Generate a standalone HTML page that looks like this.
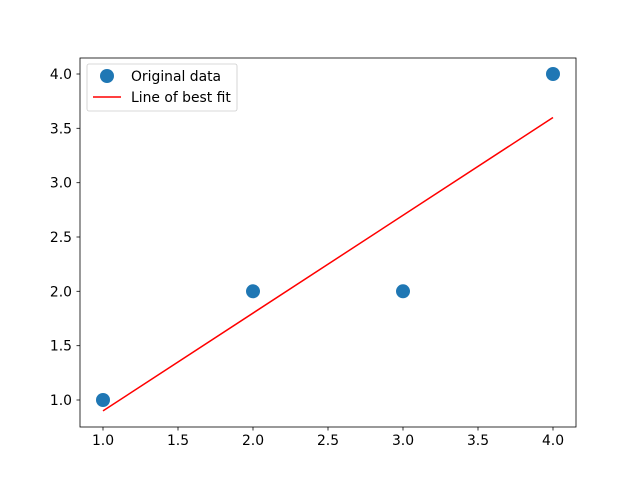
<!DOCTYPE html>
<html><head><style>body{margin:0;background:#fff}svg{display:block}text{font-family:"DejaVu Sans","Liberation Sans",sans-serif;font-size:13.9px;fill:#000}</style></head><body>
<svg width="640" height="480" xmlns="http://www.w3.org/2000/svg">
<rect width="640" height="480" fill="#fff"/>
<line x1="103" y1="410.9" x2="553" y2="117.5" stroke="#ff0000" stroke-width="1.5"/>
<g fill="#1f77b4">
<circle cx="103" cy="400" r="7"/><circle cx="253" cy="291.3" r="7"/><circle cx="403" cy="291.3" r="7"/><circle cx="553" cy="74" r="7"/>
</g>
<rect x="80" y="58" width="496" height="369" fill="none" stroke="#000" stroke-width="0.8"/>
<g stroke="#000" stroke-width="0.8">
<line x1="103" y1="427" x2="103" y2="430.5"/><line x1="178" y1="427" x2="178" y2="430.5"/><line x1="253" y1="427" x2="253" y2="430.5"/><line x1="328" y1="427" x2="328" y2="430.5"/><line x1="403" y1="427" x2="403" y2="430.5"/><line x1="478" y1="427" x2="478" y2="430.5"/><line x1="553" y1="427" x2="553" y2="430.5"/>
<line x1="76.5" y1="400" x2="80" y2="400"/><line x1="76.5" y1="345.7" x2="80" y2="345.7"/><line x1="76.5" y1="291.3" x2="80" y2="291.3"/><line x1="76.5" y1="237" x2="80" y2="237"/><line x1="76.5" y1="182.7" x2="80" y2="182.7"/><line x1="76.5" y1="128.3" x2="80" y2="128.3"/><line x1="76.5" y1="74" x2="80" y2="74"/>
</g>
<g text-anchor="middle">
<text x="103" y="445">1.0</text><text x="178" y="445">1.5</text><text x="253" y="445">2.0</text><text x="328" y="445">2.5</text><text x="403" y="445">3.0</text><text x="478" y="445">3.5</text><text x="553" y="445">4.0</text>
</g>
<g text-anchor="end">
<text x="72" y="405">1.0</text><text x="72" y="350.7">1.5</text><text x="72" y="296.3">2.0</text><text x="72" y="242">2.5</text><text x="72" y="187.7">3.0</text><text x="72" y="133.3">3.5</text><text x="72" y="79">4.0</text>
</g>
<rect x="87" y="64" width="150" height="47" rx="2" fill="#fff" fill-opacity="0.8" stroke="#ccc" stroke-width="0.8"/>
<circle cx="107" cy="76" r="7" fill="#1f77b4"/>
<text x="131" y="81">Original data</text>
<line x1="93" y1="97" x2="121" y2="97" stroke="#ff0000" stroke-width="1.5"/>
<text x="131" y="102">Line of best fit</text>
</svg>
</body></html>
